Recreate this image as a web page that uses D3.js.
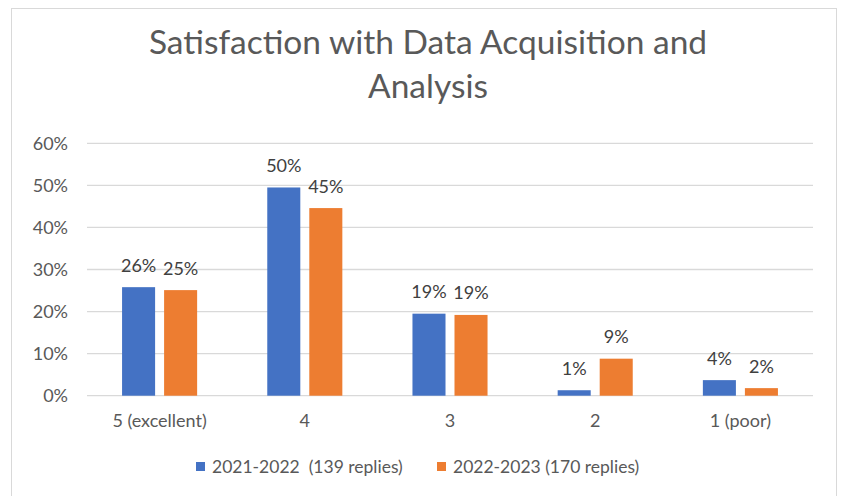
<!DOCTYPE html>
<html>
<head>
<meta charset="utf-8">
<script src="https://cdn.jsdelivr.net/npm/d3@7"></script>
<style>
  body { margin: 0; background: #fff; }
  text { font-family: Lato, "Liberation Sans", sans-serif; }
</style>
</head>
<body>
<div id="chart"></div>
<script>
const categories = ["5 (excellent)", "4", "3", "2", "1 (poor)"];
const seriesNames = ["2021-2022  (139 replies)", "2022-2023 (170 replies)"];
const values2122 = [25.8, 49.5, 19.5, 1.3, 3.7];
const values2223 = [25.1, 44.6, 19.2, 8.8, 1.8];
const valueLabels2122 = ["26%", "50%", "19%", "1%", "4%"];
const valueLabels2223 = ["25%", "45%", "19%", "9%", "2%"];
const yTicks = [0, 10, 20, 30, 40, 50, 60];

const width = 841, height = 496;
const colors = ["#4472C4", "#ED7D31"];

const svg = d3.select("#chart").append("svg")
  .attr("width", width)
  .attr("height", height);

// chart frame
svg.append("rect")
  .attr("x", 11.5).attr("y", 8.5)
  .attr("width", 825).attr("height", 500)
  .attr("fill", "#fff")
  .attr("stroke", "#d9d9d9");

// title
const title = svg.append("text")
  .attr("text-anchor", "middle")
  .attr("fill", "#595959")
  .style("font-size", "33.5px");
title.append("tspan").attr("x", 428).attr("y", 54).text("Satisfaction with Data Acquisition and");
title.append("tspan").attr("x", 428).attr("y", 98).text("Analysis");

const x0 = d3.scaleBand()
  .domain(categories)
  .range([87, 813])
  .paddingInner(0.483)
  .paddingOuter(0.2415);

const x1 = d3.scaleBand()
  .domain([0, 1])
  .range([0, x0.bandwidth()])
  .paddingInner(0.214);

const y = d3.scaleLinear()
  .domain([0, 60])
  .range([395.7, 143.3]);

// gridlines
svg.append("g")
  .selectAll("line")
  .data(yTicks)
  .enter()
  .append("line")
  .attr("x1", 87).attr("x2", 813)
  .attr("y1", d => y(d)).attr("y2", d => y(d))
  .attr("stroke", "#d9d9d9")
  .attr("stroke-width", 1.3);

// y axis labels
const yAxis = svg.append("g")
  .attr("transform", "translate(87,0)")
  .call(d3.axisLeft(y).tickValues(yTicks).tickFormat(d => d + "%").tickSize(0).tickPadding(19));
yAxis.select(".domain").remove();
yAxis.selectAll("text")
  .attr("fill", "#595959")
  .style("font-size", "18px")
  .style("font-family", "Lato, 'Liberation Sans', sans-serif");

// x axis labels
const xAxis = svg.append("g")
  .attr("transform", "translate(0," + y(0) + ")")
  .call(d3.axisBottom(x0).tickSize(0).tickPadding(19));
xAxis.select(".domain").remove();
xAxis.selectAll("text")
  .attr("fill", "#595959")
  .style("font-size", "18px")
  .style("font-family", "Lato, 'Liberation Sans', sans-serif");

const rows = categories.map((c, i) => ({
  cat: c,
  vals: [
    { s: 0, v: values2122[i], label: valueLabels2122[i] },
    { s: 1, v: values2223[i], label: valueLabels2223[i] }
  ]
}));

const groups = svg.append("g")
  .selectAll("g")
  .data(rows)
  .enter()
  .append("g")
  .attr("transform", d => "translate(" + x0(d.cat) + ",0)");

groups.selectAll("rect")
  .data(d => d.vals)
  .enter()
  .append("rect")
  .attr("x", d => x1(d.s))
  .attr("width", x1.bandwidth())
  .attr("y", d => y(d.v))
  .attr("height", d => y(0) - y(d.v))
  .attr("fill", d => colors[d.s]);

groups.selectAll("text")
  .data(d => d.vals)
  .enter()
  .append("text")
  .attr("x", d => x1(d.s) + x1.bandwidth() / 2)
  .attr("y", d => y(d.v) - 15.5)
  .attr("text-anchor", "middle")
  .attr("fill", "#404040")
  .style("font-size", "18px")
  .text(d => d.label);

// legend
const legendX = [196, 437];
const legend = svg.append("g")
  .selectAll("g")
  .data(seriesNames)
  .enter()
  .append("g")
  .attr("transform", (d, i) => "translate(" + legendX[i] + ",462)");
legend.append("rect")
  .attr("width", 9).attr("height", 9)
  .attr("fill", (d, i) => colors[i]);
legend.append("text")
  .attr("x", 16).attr("y", 10.5)
  .attr("fill", "#595959")
  .style("font-size", "17.5px")
  .style("white-space", "pre")
  .text(d => d);
</script>
</body>
</html>
